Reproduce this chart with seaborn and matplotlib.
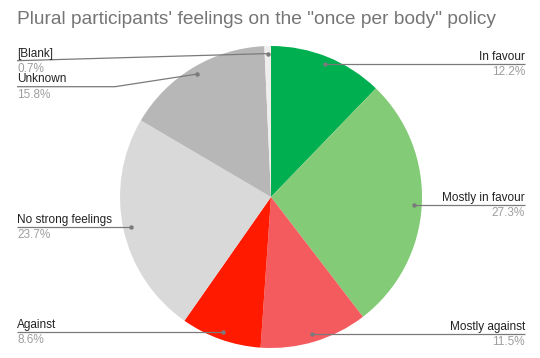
import numpy as np
import matplotlib
matplotlib.use("Agg")
import matplotlib.pyplot as plt
import seaborn as sns

sns.set_theme(style="white")
plt.rcParams['font.family'] = ['Liberation Sans', 'DejaVu Sans']

categories = ["In favour", "Mostly in favour", "Mostly against", "Against",
              "No strong feelings", "Unknown", "[Blank]"]
values = [12.2, 27.3, 11.5, 8.6, 23.7, 15.8, 0.7]
pct_labels = ["12.2%", "27.3%", "11.5%", "8.6%", "23.7%", "15.8%", "0.7%"]
colors = ["#00b050", "#83cb76", "#f45b5f", "#ff1a00", "#d9d9d9", "#b7b7b7", "#eeeeee"]

W, H = 540, 358
fig = plt.figure(figsize=(W / 100, H / 100), dpi=100)
ax = fig.add_axes([0, 0, 1, 1])

cx, cy, r = 271, H - 197, 151
wedges, _ = ax.pie(values, colors=colors, startangle=90, counterclock=False,
                   center=(cx, cy), radius=r, frame=True,
                   wedgeprops=dict(linewidth=0))
ax.set_xlim(0, W)
ax.set_ylim(0, H)
ax.set_aspect("equal")
ax.axis("off")

def py(y):
    return H - y

# label layout: side, underline y (pixel from top; None = at dot), elbow x
layout = {
    "In favour": ("R", None, None),
    "Mostly in favour": ("R", None, None),
    "Mostly against": ("R", None, None),
    "Against": ("L", None, None),
    "No strong feelings": ("L", None, None),
    "Unknown": ("L", 86.7, 115),
    "[Blank]": ("L", 60.7, 17),
}

lc = "#7a7a7a"
for w, name, pct in zip(wedges, categories, pct_labels):
    th = np.deg2rad((w.theta1 + w.theta2) / 2)
    dx = cx + 0.95 * r * np.cos(th)
    dy = cy + 0.95 * r * np.sin(th)
    side, uy, ex = layout[name]
    if uy is None:
        uy = H - dy
    ox = 17 if side == "L" else 525
    if ex is None:
        ex = (ox + dx) / 2
    ax.plot([ox, ex, dx], [py(uy), py(uy), dy], color=lc, lw=0.9,
            solid_capstyle="butt", zorder=3)
    ax.plot([dx], [dy], "o", ms=3.2, color=lc, mec="none", zorder=4)
    ha = "left" if side == "L" else "right"
    ax.text(ox, py(uy - 1.2), name, ha=ha, va="bottom", fontsize=8.5,
            color="#222222", zorder=5)
    ax.text(ox, py(uy + 1.8), pct, ha=ha, va="top", fontsize=8.5,
            color="#9e9e9e", zorder=5)

ax.text(17, py(20), "Plural participants' feelings on the \"once per body\" policy",
        ha="left", va="center", fontsize=13.8, color="#757575")

fig.savefig("out.png", dpi=100)
